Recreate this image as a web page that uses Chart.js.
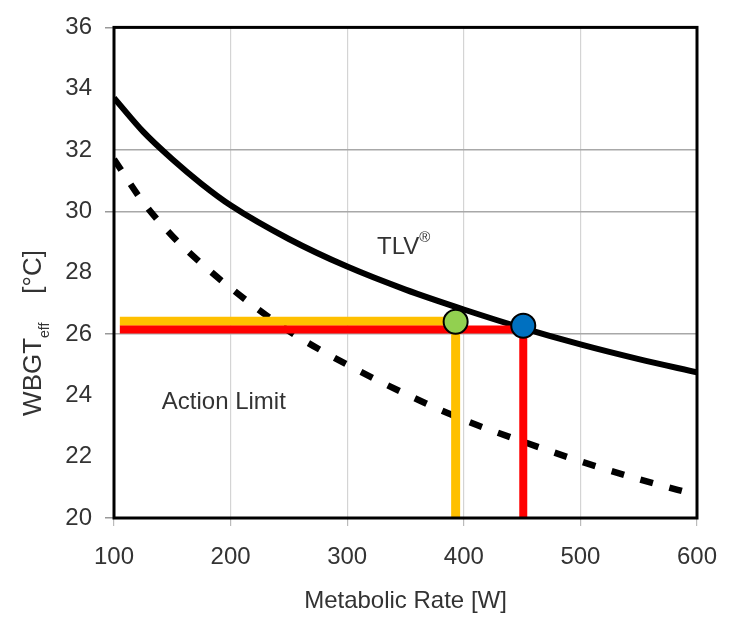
<!DOCTYPE html>
<html>
<head>
<meta charset="utf-8">
<script src="https://cdn.jsdelivr.net/npm/chart.js@4.4.1/dist/chart.umd.min.js"></script>
<style>
  html, body { margin: 0; padding: 0; background: #fff; }
</style>
</head>
<body>
<canvas id="chart" width="737" height="618"></canvas>
<script>
// metabolic rate [W] sampled along the curves
const rates = [100, 125, 150, 175, 200, 250, 300, 350, 400, 450, 500, 550, 600];
// WBGT_eff [°C]
const tlvValues = [33.7, 32.6, 31.7, 30.9, 30.2, 29.1, 28.2, 27.45, 26.8, 26.2, 25.66, 25.18, 24.75];
const actionValues = [31.7, 30.3, 29.2, 28.3, 27.5, 26.1, 25.0, 24.05, 23.2, 22.5, 21.85, 21.27, 20.75];

// the two worked examples (yellow = green dot, red = blue dot)
const yellowPath = [{x: 105, y: 26.42}, {x: 393, y: 26.42}, {x: 393, y: 20}];
const redPath = [{x: 105, y: 26.15}, {x: 451, y: 26.15}, {x: 451, y: 20}];
const greenPoint = [{x: 393, y: 26.4}];
const bluePoint = [{x: 451, y: 26.27}];

// grid lines / tick marks that show in the original
const yGridValues = [32, 30, 26];
const yTickMarks = [36, 30, 26, 20];

const FONT = "'Liberation Sans', Arial, sans-serif";
const TEXT = "#333";

function toPoints(xs, ys) {
    return xs.map(function (x, i) { return {x: x, y: ys[i]}; });
}

const framePlugin = {
    id: 'frame',
    afterDraw: function (chart) {
        const a = chart.chartArea;
        const ctx = chart.ctx;
        ctx.save();
        ctx.strokeStyle = '#000';
        ctx.lineWidth = 3;
        ctx.strokeRect(a.left, a.top, a.right - a.left, a.bottom - a.top);
        ctx.restore();
    }
};

const labelPlugin = {
    id: 'labels',
    afterDatasetsDraw: function (chart) {
        const ctx = chart.ctx;
        const xs = chart.scales.x, ys = chart.scales.y;
        ctx.save();
        ctx.fillStyle = TEXT;
        ctx.textBaseline = 'alphabetic';
        ctx.textAlign = 'left';

        // TLV with registered sign
        ctx.font = "24px " + FONT;
        let px = xs.getPixelForValue(325.6), py = ys.getPixelForValue(28.6);
        ctx.fillText('TLV', px, py);
        let w = ctx.measureText('TLV').width;
        ctx.font = "15px " + FONT;
        ctx.fillText('\u00AE', px + w, py - 12);

        // Action Limit
        ctx.font = "24px " + FONT;
        ctx.fillText('Action Limit', xs.getPixelForValue(141), ys.getPixelForValue(23.55));
        ctx.restore();

        // y axis title with subscript
        const parts = [
            {t: 'WBGT', size: 26, dy: 0},
            {t: 'eff', size: 14, dy: 8},
            {t: '    [\u00B0C]', size: 26, dy: 0}
        ];
        ctx.save();
        let total = 0;
        parts.forEach(function (p) {
            ctx.font = p.size + "px " + FONT;
            p.w = ctx.measureText(p.t).width;
            total += p.w;
        });
        ctx.translate(41, 333);
        ctx.rotate(-Math.PI / 2);
        ctx.fillStyle = TEXT;
        ctx.textBaseline = 'alphabetic';
        let cx = -total / 2;
        parts.forEach(function (p) {
            ctx.font = p.size + "px " + FONT;
            ctx.fillText(p.t, cx, p.dy);
            cx += p.w;
        });
        ctx.restore();
    }
};

const ctx = document.getElementById('chart').getContext('2d');
const chart = new Chart(ctx, {
    type: 'scatter',
    data: {
        datasets: [
            {
                data: greenPoint,
                backgroundColor: '#92D050',
                borderColor: '#000',
                borderWidth: 2,
                pointRadius: 12,
                order: 0
            },
            {
                data: bluePoint,
                backgroundColor: '#0070C0',
                borderColor: '#000',
                borderWidth: 2,
                pointRadius: 12,
                order: 0
            },
            {
                data: yellowPath,
                showLine: true,
                borderColor: '#FFC000',
                borderWidth: 9,
                pointRadius: 0,
                borderCapStyle: 'butt',
                borderJoinStyle: 'miter',
                order: 2
            },
            {
                data: redPath,
                showLine: true,
                borderColor: '#FF0000',
                borderWidth: 8,
                pointRadius: 0,
                borderCapStyle: 'butt',
                borderJoinStyle: 'miter',
                order: 1
            },
            {
                data: toPoints(rates, tlvValues),
                showLine: true,
                borderColor: '#000',
                borderWidth: 6,
                pointRadius: 0,
                cubicInterpolationMode: 'monotone',
                order: 3
            },
            {
                data: toPoints(rates, actionValues),
                showLine: true,
                borderColor: '#000',
                borderWidth: 6.5,
                borderDash: [13, 17],
                borderCapStyle: 'butt',
                pointRadius: 0,
                cubicInterpolationMode: 'monotone',
                order: 4
            }
        ]
    },
    options: {
        responsive: false,
        animation: false,
        layout: {
            padding: {top: 22, right: 40, left: 0, bottom: 0}
        },
        scales: {
            x: {
                type: 'linear',
                min: 100,
                max: 600,
                afterFit: function (scale) { scale.height = 100; },
                ticks: {
                    stepSize: 100,
                    padding: 17,
                    color: TEXT,
                    font: {family: FONT, size: 24}
                },
                grid: {
                    color: function (c) {
                        return (c.tick && c.tick.value > 100 && c.tick.value < 600) ? '#d4d4d4' : 'rgba(0,0,0,0)';
                    },
                    tickColor: '#bbb',
                    tickLength: 8,
                    lineWidth: 1.2
                },
                border: {display: false},
                title: {
                    display: true,
                    text: 'Metabolic Rate [W]',
                    color: TEXT,
                    font: {family: FONT, size: 24},
                    padding: {top: 0, bottom: 2}
                }
            },
            y: {
                type: 'linear',
                min: 20,
                max: 36,
                afterFit: function (scale) { scale.width = 114; },
                ticks: {
                    stepSize: 2,
                    padding: 13,
                    color: TEXT,
                    font: {family: FONT, size: 24}
                },
                grid: {
                    color: function (c) {
                        return (c.tick && yGridValues.indexOf(c.tick.value) >= 0) ? '#a8a8a8' : 'rgba(0,0,0,0)';
                    },
                    tickColor: function (c) {
                        return (c.tick && yTickMarks.indexOf(c.tick.value) >= 0) ? '#999' : 'rgba(0,0,0,0)';
                    },
                    tickLength: 9,
                    lineWidth: 1.5
                },
                border: {display: false}
            }
        },
        plugins: {
            legend: {display: false},
            tooltip: {enabled: false}
        }
    },
    plugins: [labelPlugin, framePlugin]
});
</script>
</body>
</html>
